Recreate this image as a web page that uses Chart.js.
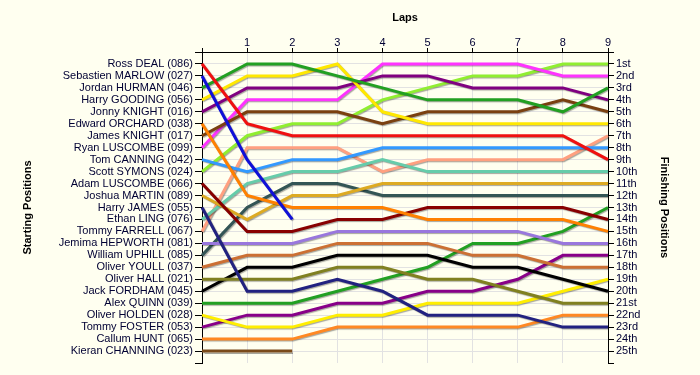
<!DOCTYPE html>
<html>
<head>
<meta charset="utf-8">
<title>Lap chart</title>
<script src="https://cdn.jsdelivr.net/npm/chart.js@4.4.1/dist/chart.umd.min.js"></script>
<style>
  html, body { margin: 0; padding: 0; background: #fffff0; }
  #wrap { width: 700px; height: 375px; }
</style>
</head>
<body>
<div id="wrap"><canvas id="lapChart" width="700" height="375"></canvas></div>
<script>
// ----- Data -----
const laps = ['0', '1', '2', '3', '4', '5', '6', '7', '8', '9'];

// grid order (starting positions 1..25)
const drivers = [
  'Ross DEAL (086)', 'Sebastien MARLOW (027)', 'Jordan HURMAN (046)', 'Harry GOODING (056)',
  'Jonny KNIGHT (016)', 'Edward ORCHARD (038)', 'James KNIGHT (017)', 'Ryan LUSCOMBE (099)',
  'Tom CANNING (042)', 'Scott SYMONS (024)', 'Adam LUSCOMBE (066)', 'Joshua MARTIN (089)',
  'Harry JAMES (055)', 'Ethan LING (076)', 'Tommy FARRELL (067)', 'Jemima HEPWORTH (081)',
  'William UPHILL (085)', 'Oliver YOULL (037)', 'Oliver HALL (021)', 'Jack FORDHAM (045)',
  'Alex QUINN (039)', 'Oliver HOLDEN (028)', 'Tommy FOSTER (053)', 'Callum HUNT (065)',
  'Kieran CHANNING (023)'
];

const finishLabels = [
  '1st', '2nd', '3rd', '4th', '5th', '6th', '7th', '8th', '9th', '10th',
  '11th', '12th', '13th', '14th', '15th', '16th', '17th', '18th', '19th', '20th',
  '21st', '22nd', '23rd', '24th', '25th'
];

// position after each lap (index 0 = grid), same order as drivers
const lapPositions = [
  [1, 6, 7, 7, 7, 7, 7, 7, 7, 9],
  [2, 9, 14],
  [3, 1, 1, 2, 3, 4, 4, 4, 5, 3],
  [4, 2, 2, 1, 5, 6, 6, 6, 6, 6],
  [5, 3, 3, 3, 2, 2, 3, 3, 3, 4],
  [6, 12, 13, 13, 13, 14, 14, 14, 14, 15],
  [7, 5, 5, 5, 6, 5, 5, 5, 4, 5],
  [8, 4, 4, 4, 1, 1, 1, 1, 2, 2],
  [9, 10, 9, 9, 8, 8, 8, 8, 8, 8],
  [10, 7, 6, 6, 4, 3, 2, 2, 1, 1],
  [11, 15, 15, 14, 14, 13, 13, 13, 13, 14],
  [12, 14, 12, 12, 11, 11, 11, 11, 11, 11],
  [13, 20, 20, 19, 20, 22, 22, 22, 23, 23],
  [14, 11, 10, 10, 9, 10, 10, 10, 10, 10],
  [15, 8, 8, 8, 10, 9, 9, 9, 9, 7],
  [16, 16, 16, 15, 15, 15, 15, 15, 16, 16],
  [17, 13, 11, 11, 12, 12, 12, 12, 12, 12],
  [18, 17, 17, 16, 16, 16, 17, 17, 18, 18],
  [19, 19, 19, 18, 18, 19, 19, 20, 21, 21],
  [20, 18, 18, 17, 17, 17, 18, 18, 19, 20],
  [21, 21, 21, 20, 19, 18, 16, 16, 15, 13],
  [22, 23, 23, 22, 22, 21, 21, 21, 20, 19],
  [23, 22, 22, 21, 21, 20, 20, 19, 17, 17],
  [24, 24, 24, 23, 23, 23, 23, 23, 22, 22],
  [25, 25, 25]
];

const lineColors = [
  '#f01010', '#1010d8', '#22a022', '#ffe800', '#800080', '#ff8000', '#7a4010', '#ff33ff',
  '#3399ff', '#90ee30', '#880000', '#ddaa22', '#222280', '#66ccaa', '#ffa080', '#9977dd',
  '#335555', '#cc7033', '#808020', '#000000', '#22a022', '#ffee00', '#880088', '#ff8822',
  '#7a4a1a'
];

// ----- Styling helpers -----
const fontFamily = 'Arial, "Liberation Sans", sans-serif';
const textColor = '#000033';
const gridColor = '#e2e2e2';

// soft drop shadow under every line
const lineShadow = {
  id: 'lineShadow',
  beforeDatasetsDraw(chart) {
    const ctx = chart.ctx;
    ctx.save();
    ctx.shadowColor = 'rgba(0,0,0,0.35)';
    ctx.shadowOffsetX = 1;
    ctx.shadowOffsetY = 1;
    ctx.shadowBlur = 1;
  },
  afterDatasetsDraw(chart) {
    chart.ctx.restore();
  }
};

const datasets = drivers.map((name, i) => ({
  label: name,
  data: lapPositions[i],
  borderColor: lineColors[i],
  borderWidth: 3,
  pointRadius: 0,
  tension: 0,
  fill: false
}));

const innerGrid = ctx => (ctx.tick && ctx.tick.value >= 1 && ctx.tick.value <= drivers.length) ? gridColor : 'rgba(0,0,0,0)';

new Chart(document.getElementById('lapChart'), {
  type: 'line',
  data: { labels: laps, datasets: datasets },
  plugins: [lineShadow],
  options: {
    responsive: false,
    animation: false,
    devicePixelRatio: 1,
    layout: { padding: { left: 0, right: 0, top: 0, bottom: 12 } },
    plugins: {
      legend: { display: false },
      tooltip: { enabled: false }
    },
    scales: {
      x: {
        type: 'category',
        position: 'top',
        offset: false,
        border: { color: '#000' },
        grid: {
          color: ctx => ctx.index === 0 ? 'rgba(0,0,0,0)' : gridColor,
          tickColor: '#000',
          tickLength: 4
        },
        ticks: {
          callback: (v, i) => i === 0 ? '' : laps[i],
          color: textColor,
          font: { family: fontFamily, size: 11, lineHeight: 1 },
          padding: 0,
          autoSkip: false,
          maxRotation: 0
        },
        title: {
          display: true,
          text: 'Laps',
          color: '#000',
          font: { family: fontFamily, size: 11, weight: 'bold' },
          padding: { top: 11, bottom: 0 }
        },
        afterFit: s => { s.height = 52; }
      },
      y: {
        type: 'linear',
        position: 'left',
        reverse: true,
        min: 0,
        max: 26,
        border: { color: '#000' },
        grid: { color: innerGrid, tickColor: '#000', tickLength: 7 },
        ticks: {
          stepSize: 1,
          autoSkip: false,
          callback: v => (v >= 1 && v <= drivers.length) ? drivers[v - 1] : '',
          color: textColor,
          font: { family: fontFamily, size: 11, lineHeight: 1 },
          padding: 2
        },
        title: {
          display: true,
          text: 'Starting Positions',
          color: '#000',
          font: { family: fontFamily, size: 11, weight: 'bold' },
          padding: { top: 21, bottom: 0 }
        },
        afterFit: s => { s.width = 202; }
      },
      yRight: {
        type: 'linear',
        position: 'right',
        reverse: true,
        min: 0,
        max: 26,
        border: { color: '#000' },
        grid: { drawOnChartArea: false, tickColor: '#000', tickLength: 6 },
        ticks: {
          stepSize: 1,
          autoSkip: false,
          callback: v => (v >= 1 && v <= finishLabels.length) ? finishLabels[v - 1] : '',
          color: textColor,
          font: { family: fontFamily, size: 11, lineHeight: 1 },
          padding: 2
        },
        title: {
          display: true,
          text: 'Finishing Positions',
          color: '#000',
          font: { family: fontFamily, size: 11, weight: 'bold' },
          padding: { top: 29, bottom: 0 }
        },
        afterFit: s => { s.width = 92; }
      }
    }
  }
});
</script>
</body>
</html>
